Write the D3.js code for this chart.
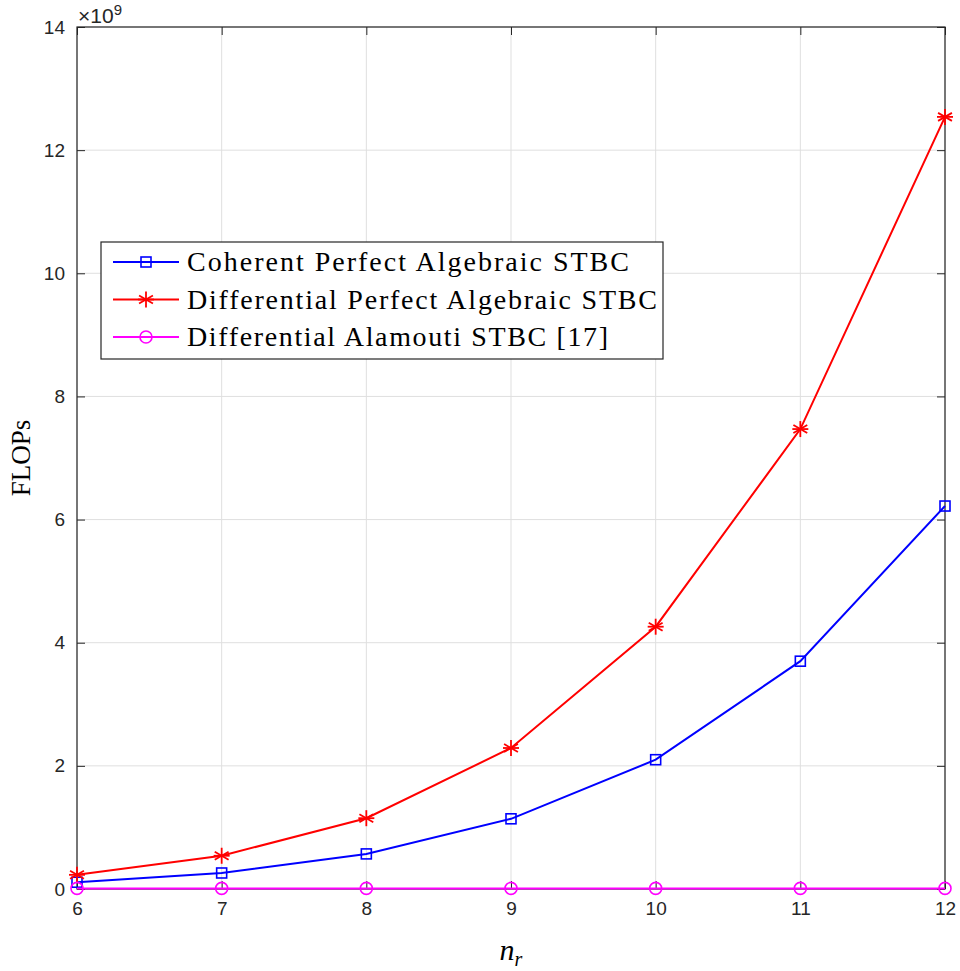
<!DOCTYPE html>
<html>
<head>
<meta charset="utf-8">
<script src="https://cdn.jsdelivr.net/npm/d3@7"></script>
<style>
  body { margin: 0; background: #fff; }
  svg { display: block; }
</style>
</head>
<body>
<div id="chart"></div>
<script>
// data (FLOPs in units of 1e9)
const nr = [6, 7, 8, 9, 10, 11, 12];
const coherent = [0.11, 0.26, 0.57, 1.14, 2.10, 3.70, 6.22];
const differential = [0.23, 0.54, 1.15, 2.29, 4.26, 7.47, 12.54];
const alamouti = [0.01, 0.01, 0.01, 0.01, 0.01, 0.01, 0.01];
const seriesNames = ["Coherent Perfect Algebraic STBC", "Differential Perfect Algebraic STBC", "Differential Alamouti STBC [17]"];
const xTicks = [6, 7, 8, 9, 10, 11, 12];
const yTicks = [0, 2, 4, 6, 8, 10, 12, 14];

const width = 960, height = 971;
const margin = {left: 77, top: 27, right: 15, bottom: 82};
const pw = width - margin.left - margin.right,
      ph = height - margin.top - margin.bottom;

const svg = d3.select("#chart").append("svg")
    .attr("width", width).attr("height", height);
const g = svg.append("g").attr("transform", `translate(${margin.left},${margin.top})`);

const x = d3.scaleLinear().domain([6, 12]).range([0, pw]);
const y = d3.scaleLinear().domain([0, 14]).range([ph, 0]);

// grid
g.append("g").selectAll("line").data(xTicks).join("line")
    .attr("x1", d => x(d)).attr("x2", d => x(d)).attr("y1", 0).attr("y2", ph)
    .attr("stroke", "#dfdfdf").attr("stroke-width", 1);
g.append("g").selectAll("line").data(yTicks).join("line")
    .attr("y1", d => y(d)).attr("y2", d => y(d)).attr("x1", 0).attr("x2", pw)
    .attr("stroke", "#dfdfdf").attr("stroke-width", 1);

// axes (box style)
const tickFont = "Liberation Sans, Arial, sans-serif";
function styleAxis(sel) {
    sel.select(".domain").remove();
    sel.selectAll(".tick line").attr("stroke", "#262626");
    sel.selectAll(".tick text").attr("fill", "#262626")
        .style("font-family", tickFont).style("font-size", "19px");
}
g.append("g").attr("transform", `translate(0,${ph})`)
    .call(d3.axisBottom(x).tickValues(xTicks).tickFormat(d3.format("d")).tickSize(-8).tickPadding(13))
    .call(styleAxis);
g.append("g")
    .call(d3.axisTop(x).tickValues(xTicks).tickSize(-8).tickFormat(""))
    .call(styleAxis);
g.append("g")
    .call(d3.axisLeft(y).tickValues(yTicks).tickFormat(d3.format("d")).tickSize(-8).tickPadding(12))
    .call(styleAxis);
g.append("g").attr("transform", `translate(${pw},0)`)
    .call(d3.axisRight(y).tickValues(yTicks).tickSize(-8).tickFormat(""))
    .call(styleAxis);
g.append("rect").attr("width", pw).attr("height", ph)
    .attr("fill", "none").attr("stroke", "#262626").attr("stroke-width", 1.2);

// exponent
const ex = g.append("text").attr("x", 1).attr("y", -4)
    .attr("fill", "#262626").style("font-family", tickFont).style("font-size", "21px");
ex.append("tspan").text("\u00d710");
ex.append("tspan").attr("dy", -8).style("font-size", "15px").text("9");

// lines
const series = [
    {vals: coherent, color: "#0000ff", marker: "square"},
    {vals: differential, color: "#ff0000", marker: "star"},
    {vals: alamouti, color: "#ff00ff", marker: "circle"}
];
const line = d3.line().x((d, i) => x(nr[i])).y(d => y(d));

function drawMarker(sel, type, color) {
    if (type === "square") {
        sel.append("rect").attr("x", -5).attr("y", -5).attr("width", 10).attr("height", 10)
            .attr("fill", "none").attr("stroke", color).attr("stroke-width", 1.6);
    } else if (type === "circle") {
        sel.append("circle").attr("r", 6)
            .attr("fill", "none").attr("stroke", color).attr("stroke-width", 1.6);
    } else {
        const r = 8;
        [0, 60, 120].forEach(a => {
            const t = a * Math.PI / 180 + Math.PI / 2;
            sel.append("line")
                .attr("x1", -r * Math.cos(t)).attr("y1", -r * Math.sin(t))
                .attr("x2", r * Math.cos(t)).attr("y2", r * Math.sin(t))
                .attr("stroke", color).attr("stroke-width", 1.8);
        });
        sel.append("line").attr("x1", -r).attr("x2", r).attr("y1", 0).attr("y2", 0)
            .attr("stroke", color).attr("stroke-width", 1.8);
    }
}

series.forEach(s => {
    g.append("path").datum(s.vals).attr("d", line)
        .attr("fill", "none").attr("stroke", s.color).attr("stroke-width", 2);
    s.vals.forEach((v, i) => {
        const m = g.append("g").attr("transform", `translate(${x(nr[i])},${y(v)})`);
        drawMarker(m, s.marker, s.color);
    });
});

// legend
const legendLen = [442, 470, 421];
const lg = svg.append("g").attr("transform", "translate(101,242)");
lg.append("rect").attr("width", 562).attr("height", 117)
    .attr("fill", "#fff").attr("stroke", "#262626").attr("stroke-width", 1.2);
series.forEach((s, i) => {
    const yy = 20 + i * 37.5;
    lg.append("line").attr("x1", 12).attr("x2", 78).attr("y1", yy).attr("y2", yy)
        .attr("stroke", s.color).attr("stroke-width", 2);
    drawMarker(lg.append("g").attr("transform", `translate(45,${yy})`), s.marker, s.color);
    lg.append("text").attr("x", 86).attr("y", yy + 9)
        .attr("textLength", legendLen[i]).attr("lengthAdjust", "spacing")
        .style("font-family", "Liberation Serif, DejaVu Serif, serif").style("font-size", "28px")
        .attr("fill", "#000").text(seriesNames[i]);
});

// axis labels
svg.append("text")
    .attr("transform", `translate(30,${margin.top + ph / 2}) rotate(-90)`)
    .attr("text-anchor", "middle")
    .style("font-family", "Liberation Serif, DejaVu Serif, serif").style("font-size", "27px")
    .text("FLOPs");
const xl = svg.append("text")
    .attr("x", margin.left + pw / 2).attr("y", 960)
    .attr("text-anchor", "middle")
    .style("font-family", "Liberation Serif, DejaVu Serif, serif").style("font-size", "30px")
    .style("font-style", "italic");
xl.append("tspan").text("n");
xl.append("tspan").attr("dy", 6).style("font-size", "20px").text("r");
</script>
</body>
</html>
